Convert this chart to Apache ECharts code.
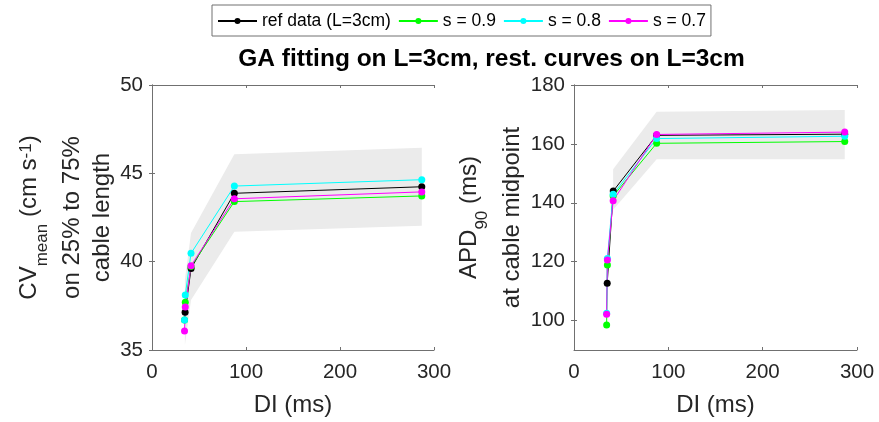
<!DOCTYPE html>
<html>
<head>
<meta charset="utf-8">
<script src="https://cdn.jsdelivr.net/npm/echarts@6/dist/echarts.min.js"></script>
<style>
  html, body { margin: 0; padding: 0; background: #ffffff; }
  #chart { width: 879px; height: 422px; }
</style>
</head>
<body>
<div id="chart"></div>
<script>
// Series definitions
const seriesNames = ['ref data (L=3cm)', 's = 0.9', 's = 0.8', 's = 0.7'];
const seriesColors = ['#000000', '#00ff00', '#00ffff', '#ff00ff'];

// Diastolic intervals (ms)
const diRef = [35.2, 41.6, 87.6, 287.0];
const diSim = [34.6, 35.4, 41.5, 87.6, 287.0];

// Conduction velocity (cm/s), mean on 25%-75% of cable length
const cvRef = [37.13, 39.62, 43.87, 44.24];
const cvS09 = [36.70, 37.70, 39.72, 43.40, 43.72];
const cvS08 = [36.70, 38.11, 40.47, 44.28, 44.64];
const cvS07 = [36.08, 37.43, 39.77, 43.56, 43.95];
const cvBandDI = [35.0, 41.5, 87.6, 287.0];
const cvBandUpper = [38.98, 41.62, 46.08, 46.45];
const cvBandLower = [35.28, 37.83, 41.70, 42.04];

// APD90 (ms) at cable midpoint
const apdRef = [112.7, 144.0, 162.9, 163.3];
const apdS09 = [98.5, 118.9, 142.3, 160.2, 160.8];
const apdS08 = [102.5, 121.1, 142.9, 161.8, 162.6];
const apdS07 = [102.1, 120.6, 140.7, 163.2, 164.0];
const apdBandDI = [41.5, 87.6, 287.0];
const apdBandUpper = [151.4, 170.9, 171.5];
const apdBandLower = [137.6, 154.8, 154.8];

// Axis ticks
const diTicks = { min: 0, max: 300, interval: 100 };
const cvTicks = { min: 35, max: 50, interval: 5 };
const apdTickValues = [100, 120, 140, 160, 180];
const apdRange = { min: 90, max: 180 };

const FONT = '"Liberation Sans", Arial, Helvetica, sans-serif';
const TEXT = '#262626';
const AXIS = '#707070';

function pairs(xs, ys) { return xs.map((x, i) => [x, ys[i]]); }

function lineSeries(gi, name, color, xs, ys) {
  return {
    type: 'line', name: name,
    xAxisIndex: gi * 2, yAxisIndex: gi * 2,
    data: pairs(xs, ys),
    symbol: 'circle', symbolSize: 7,
    lineStyle: { width: 1, color: color },
    itemStyle: { color: color },
    z: 3, animation: false
  };
}

function bandSeries(gi, xs, hi, lo) {
  return {
    type: 'custom', silent: true,
    xAxisIndex: gi * 2, yAxisIndex: gi * 2,
    data: [[xs[0], lo[0]]],
    z: 1, animation: false,
    renderItem: function (params, api) {
      const pts = xs.map((d, i) => api.coord([d, hi[i]]));
      for (let i = xs.length - 1; i >= 0; i--) pts.push(api.coord([xs[i], lo[i]]));
      return { type: 'polygon', shape: { points: pts }, style: { fill: '#ebebeb' } };
    }
  };
}

function xAxes(gi) {
  const base = {
    type: 'value', gridIndex: gi, min: diTicks.min, max: diTicks.max, interval: diTicks.interval,
    axisLine: { show: true, lineStyle: { color: AXIS, width: 1 } },
    axisTick: { show: true, inside: true, length: 3, lineStyle: { color: AXIS } },
    splitLine: { show: false }
  };
  return [
    Object.assign({}, base, {
      position: 'bottom',
      axisLabel: { show: true, margin: 12, fontSize: 20.5, fontFamily: FONT, color: TEXT },
      name: 'DI (ms)', nameLocation: 'middle', nameGap: 43,
      nameTextStyle: { fontSize: 24, fontFamily: FONT, color: TEXT }
    }),
    Object.assign({}, base, { position: 'top', axisLabel: { show: false } })
  ];
}

function yAxes(gi, range, labelOpts, tickOpts) {
  const base = Object.assign({
    type: 'value', gridIndex: gi, min: range.min, max: range.max,
    axisLine: { show: true, lineStyle: { color: AXIS, width: 1 } },
    splitLine: { show: false }
  }, range.interval ? { interval: range.interval } : {});
  return [
    Object.assign({}, base, {
      position: 'left',
      axisTick: Object.assign({ show: true, inside: true, length: 3, lineStyle: { color: AXIS } }, tickOpts),
      axisLabel: Object.assign({ show: true, margin: 9, fontSize: 20.5, fontFamily: FONT, color: TEXT }, labelOpts)
    }),
    Object.assign({}, base, {
      position: 'right',
      axisTick: Object.assign({ show: true, inside: true, length: 3, lineStyle: { color: AXIS } }, tickOpts),
      axisLabel: Object.assign({ show: false }, labelOpts.customValues ? { customValues: labelOpts.customValues } : {})
    })
  ];
}

const mainStyle = { fontSize: 24, fontFamily: FONT, fill: TEXT, verticalAlign: 'top' };
const subStyle = { fontSize: 17, fontFamily: FONT, fill: TEXT, verticalAlign: 'top', padding: [16, 0, 0, 0] };
const supStyle = { fontSize: 17, fontFamily: FONT, fill: TEXT, verticalAlign: 'top' };

function richLabel(x, y, text) {
  return {
    type: 'text', x: x, y: y, rotation: Math.PI / 2, silent: true,
    style: { text: text, align: 'center', verticalAlign: 'top',
      rich: { m: mainStyle, sb: subStyle, sp: supStyle } }
  };
}
function plainLabel(x, y, text) {
  return {
    type: 'text', x: x, y: y, rotation: Math.PI / 2, silent: true,
    style: { text: text, align: 'center', verticalAlign: 'middle',
      fontSize: 24, fontFamily: FONT, fill: TEXT }
  };
}

const chart = echarts.init(document.getElementById('chart'), null, { renderer: 'canvas' });

const series = [
  bandSeries(0, cvBandDI, cvBandUpper, cvBandLower),
  lineSeries(0, seriesNames[0], seriesColors[0], diRef, cvRef),
  lineSeries(0, seriesNames[1], seriesColors[1], diSim, cvS09),
  lineSeries(0, seriesNames[2], seriesColors[2], diSim, cvS08),
  lineSeries(0, seriesNames[3], seriesColors[3], diSim, cvS07),
  bandSeries(1, apdBandDI, apdBandUpper, apdBandLower),
  lineSeries(1, seriesNames[0], seriesColors[0], diRef, apdRef),
  lineSeries(1, seriesNames[1], seriesColors[1], diSim, apdS09),
  lineSeries(1, seriesNames[2], seriesColors[2], diSim, apdS08),
  lineSeries(1, seriesNames[3], seriesColors[3], diSim, apdS07)
];

chart.setOption({
  animation: false,
  backgroundColor: '#ffffff',
  grid: [
    { left: 152, top: 85, width: 282, height: 265 },
    { left: 574, top: 85, width: 283, height: 265 }
  ],
  legend: {
    data: seriesNames,
    left: 212, top: 5,
    orient: 'horizontal',
    padding: [7, 5, 6, 5],
    itemGap: 7, itemWidth: 39, itemHeight: 7.5,
    borderColor: '#707070', borderWidth: 1, backgroundColor: '#ffffff',
    textStyle: { fontSize: 17.5, fontFamily: FONT, color: '#000000' }
  },
  xAxis: xAxes(0).concat(xAxes(1)),
  yAxis: yAxes(0, cvTicks, {}, {}).concat(
    yAxes(1, apdRange, { customValues: apdTickValues }, { customValues: apdTickValues })
  ),
  graphic: [
    {
      type: 'text', x: 491.5, y: 59.4, silent: true,
      style: { text: 'GA fitting on L=3cm, rest. curves on L=3cm', align: 'center', verticalAlign: 'middle',
        fontSize: 24.5, fontWeight: 'bold', fontFamily: FONT, fill: '#000000' }
    },
    richLabel(17.6, 217.5, '{m|CV}{sb|mean}{m| (cm s}{sp|-1}{m|)}'),
    plainLabel(72.6, 217.5, 'on 25% to 75%'),
    plainLabel(102.6, 217.5, 'cable length'),
    richLabel(457.6, 217.5, '{m|APD}{sb|90}{m| (ms)}'),
    plainLabel(512.6, 217.5, 'at cable midpoint')
  ],
  series: series
});
</script>
</body>
</html>
